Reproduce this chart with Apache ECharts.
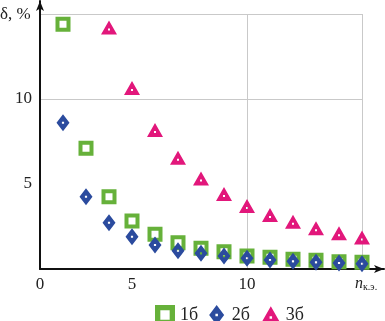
<!DOCTYPE html>
<html>
<head>
<meta charset="utf-8">
<script src="https://cdn.jsdelivr.net/npm/echarts@6/dist/echarts.min.js"></script>
<style>html,body{margin:0;padding:0;background:#fff}#c{width:385px;height:321px}</style>
</head>
<body>
<div id="c"></div>
<script>
// ---- data ----
const nValues = [2, 3, 4, 5, 6, 7, 8, 9, 10, 11, 12, 13, 14, 15];
const series1 = [14.4, 7.1, 4.25, 2.82, 2.04, 1.55, 1.22, 1.02, 0.76, 0.69, 0.57, 0.51, 0.43, 0.39];
const series2 = [8.6, 4.25, 2.72, 1.9, 1.41, 1.08, 0.92, 0.76, 0.63, 0.53, 0.45, 0.39, 0.35, 0.31];
const n3Values = [4, 5, 6, 7, 8, 9, 10, 11, 12, 13, 14, 15];
const series3 = [14.2, 10.65, 8.18, 6.55, 5.33, 4.41, 3.7, 3.18, 2.78, 2.39, 2.1, 1.86];
const seriesNames = ['1б', '2б', '3б'];
const xTickValues = [1, 5, 10];
const xTickLabels = ['0', '5', '10'];
const xGridValues = [5, 10, 15];
const yTickValues = [5, 10];
const yGridValues = [5, 10, 15];

const pair = (xs, ys) => xs.map((x, i) => [x, ys[i]]);

const squarePath = 'path://M0 0H15V15H0Z M4 4V11H11V4Z';
const diamondPath = 'path://M6 0L12 8L6 16L0 8Z M5 7V9H7V7Z';
const trianglePath = 'path://M8 0L16 14H0Z M7 8V10H9V8Z';

const serif = '"Liberation Serif", "DejaVu Serif", serif';
const gridColor = '#c9c9c9';

const chart = echarts.init(document.getElementById('c'), null, {renderer: 'canvas'});
chart.setOption({
  animation: false,
  backgroundColor: '#fff',
  grid: [
    {left: 40, right: 23, top: 14, bottom: 52},
    {left: 40, right: 1, top: 1, bottom: 52}
  ],
  xAxis: [
    {
      type: 'value', gridIndex: 0, min: 1, max: 15,
      axisLine: {show: false},
      axisTick: {show: false, customValues: xGridValues},
      splitLine: {show: true, showMinLine: false, lineStyle: {color: gridColor, width: 1}},
      axisLabel: {
        show: true, customValues: xTickValues, margin: 7,
        fontFamily: serif, fontSize: 17, color: '#222',
        formatter: v => xTickLabels[xTickValues.indexOf(v)]
      }
    },
    {
      type: 'value', gridIndex: 1, min: 1, max: 15.95,
      axisLine: {show: true, lineStyle: {color: '#111', width: 2}, symbol: ['none', 'arrow'], symbolSize: [6, 10]},
      axisTick: {show: false}, splitLine: {show: false}, axisLabel: {show: false}
    }
  ],
  yAxis: [
    {
      type: 'value', gridIndex: 0, min: 0, max: 15,
      axisLine: {show: false},
      axisTick: {show: false, customValues: yGridValues},
      splitLine: {show: true, showMinLine: false, lineStyle: {color: gridColor, width: 1}},
      axisLabel: {
        show: true, customValues: yTickValues, margin: 8,
        fontFamily: serif, fontSize: 17, color: '#222'
      }
    },
    {
      type: 'value', gridIndex: 1, min: 0, max: 15.76,
      axisLine: {show: true, lineStyle: {color: '#111', width: 2}, symbol: ['none', 'arrow'], symbolSize: [6, 10]},
      axisTick: {show: false}, splitLine: {show: false}, axisLabel: {show: false}
    }
  ],
  legend: {
    left: 150, top: 300,
    itemWidth: 20, itemHeight: 20, itemGap: 11,
    textStyle: {fontFamily: serif, fontSize: 18, color: '#222'},
    data: [
      {name: seriesNames[0], icon: squarePath},
      {name: seriesNames[1], icon: diamondPath},
      {name: seriesNames[2], icon: trianglePath}
    ]
  },
  graphic: [
    {type: 'text', left: 0, top: 6, style: {text: 'δ, %', fontFamily: serif, fontSize: 17, fill: '#222'}},
    {type: 'text', left: 355, top: 276, style: {
      text: '{i|n}{s|к.э.}',
      rich: {
        i: {fontFamily: serif, fontStyle: 'italic', fontSize: 16, fill: '#222', color: '#222'},
        s: {fontFamily: serif, fontSize: 10, fill: '#222', color: '#222', padding: [6, 0, 0, 0]}
      }
    }}
  ],
  series: [
    {
      name: seriesNames[0], type: 'scatter', xAxisIndex: 0, yAxisIndex: 0,
      symbol: squarePath, symbolSize: [15, 15],
      itemStyle: {color: '#66b13a', opacity: 1},
      data: pair(nValues, series1), z: 2
    },
    {
      name: seriesNames[1], type: 'scatter', xAxisIndex: 0, yAxisIndex: 0,
      symbol: diamondPath, symbolSize: [13, 17],
      itemStyle: {color: '#2b4b9e', opacity: 1},
      data: pair(nValues, series2), z: 3
    },
    {
      name: seriesNames[2], type: 'scatter', xAxisIndex: 0, yAxisIndex: 0,
      symbol: trianglePath, symbolSize: [16, 14],
      itemStyle: {color: '#e2177b', opacity: 1},
      data: pair(n3Values, series3), z: 3
    }
  ]
});
</script>
</body>
</html>
